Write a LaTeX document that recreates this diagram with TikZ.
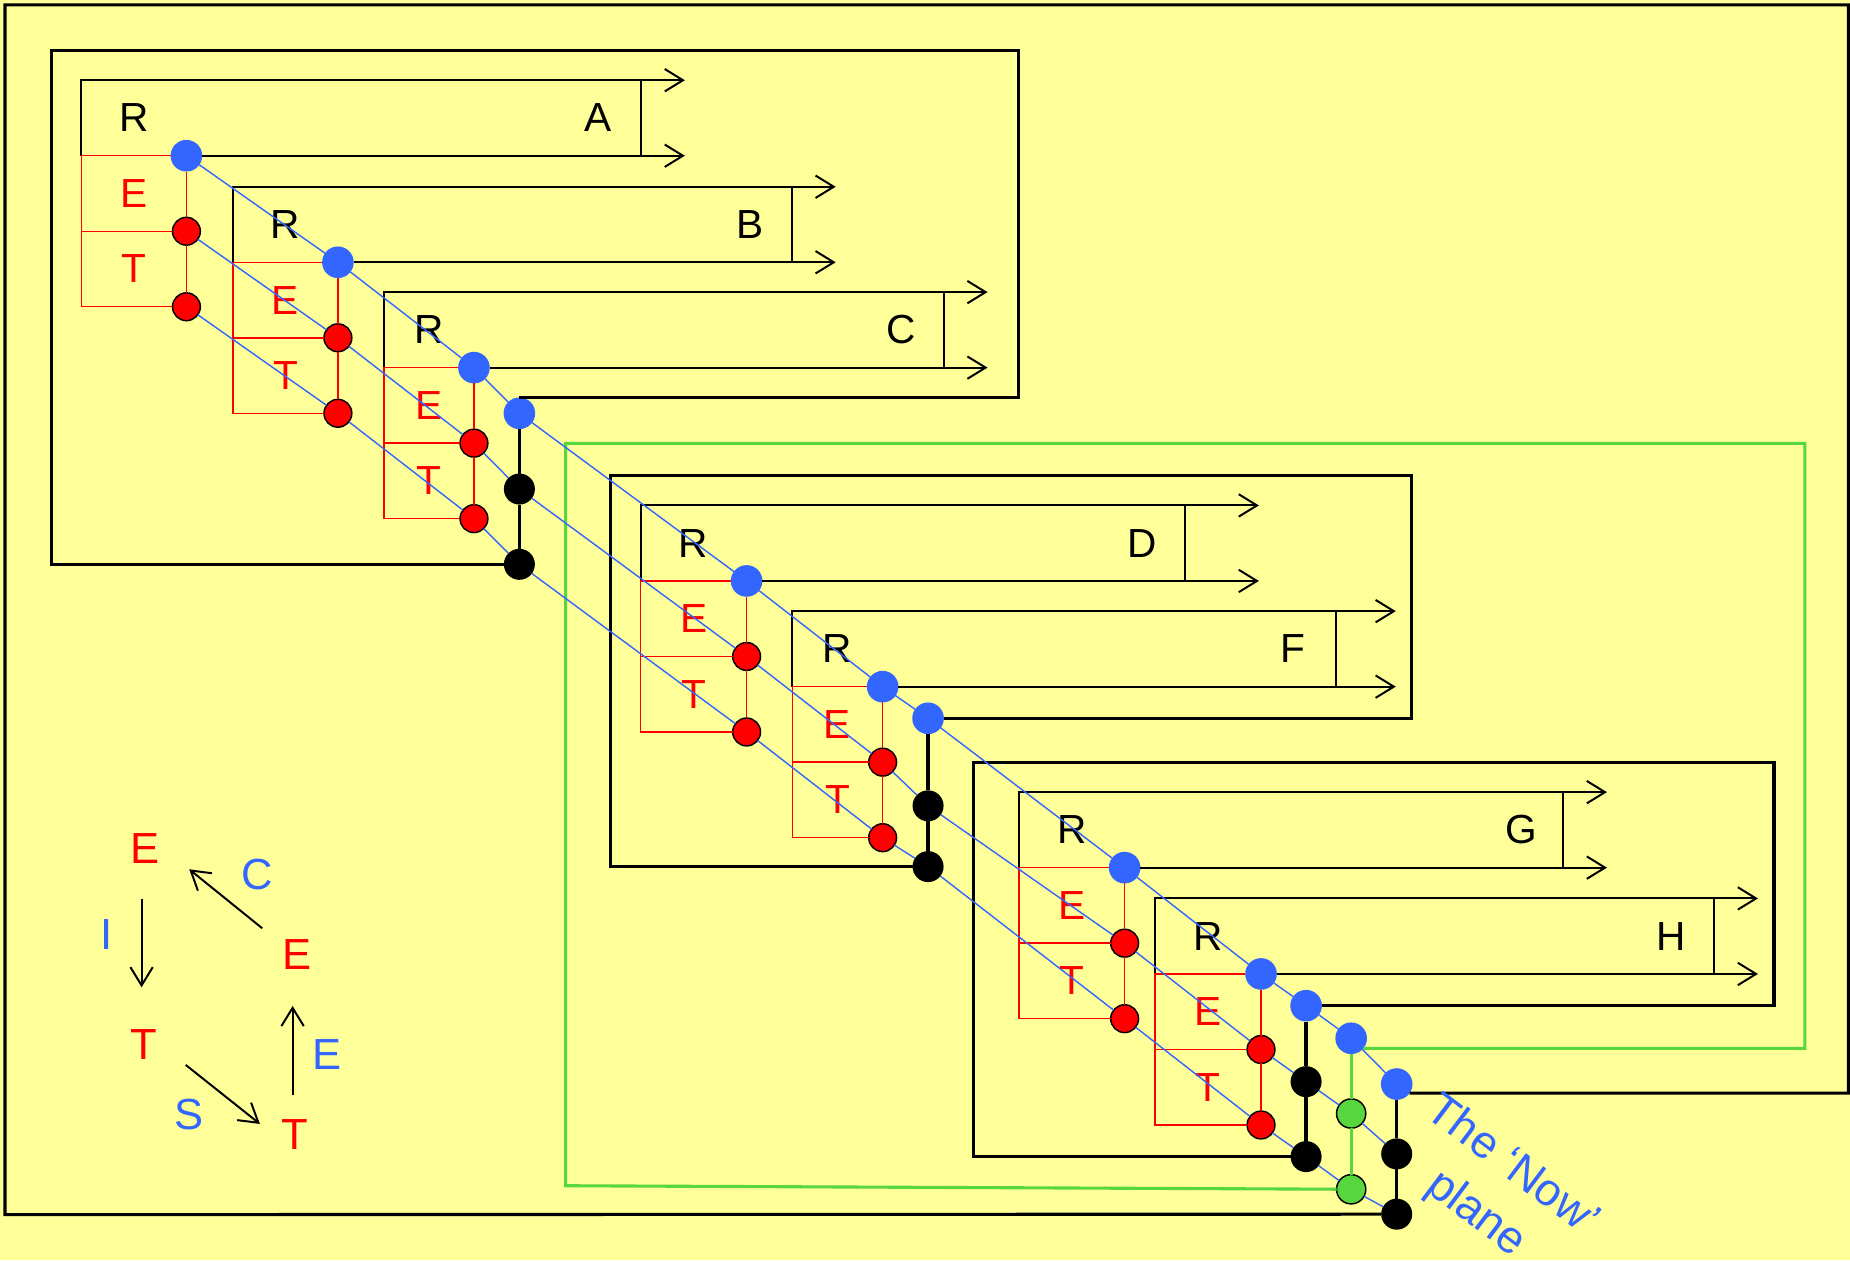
\documentclass[tikz,border=0pt]{standalone}
\usepackage{fontspec}
\setmainfont{Liberation Sans}
\usetikzlibrary{arrows.meta,calc}
\definecolor{paper}{RGB}{255,255,153}
\definecolor{nowblue}{RGB}{51,102,255}
\definecolor{evred}{RGB}{255,0,0}
\definecolor{lgreen}{RGB}{88,214,62}
\tikzset{%
  >={Straight Barb[length=4.4pt,width=5.4pt]}, % open arrow heads
  inner sep=0pt,%
  outer sep=0pt,%
  thin line/.style={line width=0.48pt},%
  frame/.style={line width=0.75pt},%
  link/.style={line width=0.8pt},%
  red line/.style={evred,line width=0.35pt},%
  now line/.style={nowblue,line width=0.34pt},%
  r dot/.style={circle,fill=nowblue,minimum size=2.68mm},%
  e dot/.style={circle,fill=evred,draw=black,line width=0.35pt,minimum size=2.36mm},%
  k dot/.style={circle,fill=black,minimum size=2.63mm},%
  g dot/.style={circle,fill=lgreen,draw=black,line width=0.35pt,minimum size=2.48mm},%
  lab/.style={font=\fontsize{9.8}{11}\selectfont},%
  legend txt/.style={font=\fontsize{10.5}{12}\selectfont},%
  now txt/.style={nowblue,font=\fontsize{11}{14.4}\selectfont,align=center}%
}

\begin{document}
\begin{tikzpicture}[x=0.1mm,y=-0.1mm] % units of the sketch

\useasboundingbox (0,0) rectangle (1568,1068);
\fill[paper] (0,0) rectangle (1568,1068);

% one box per event: name/left/y of R dot/x of dots/bar/arrow tip
\foreach \n/\xl/\yb/\xd/\xb/\xt in {A/68.9/132/158/543.3/580.5,
    B/197.5/222.3/286.4/671.3/708.3, C/325.4/311.6/401.7/799.7/837,
    D/543/492.4/632.8/1004/1067, F/671.5/582/748.1/1132/1183,
    G/863.6/735.4/953.2/1325/1362, H/979/825.5/1068.8/1452.7/1490}{
  \node[r dot] (r\n) at (\xd,\yb) {};
  \node[e dot] (e\n) at (\xd,\yb+64) {};
  \node[e dot] (t\n) at (\xd,\yb+128) {};
  \draw[thin line,->] (\xl,\yb) |- (\xt,\yb-64);
  \draw[thin line,->] (r\n) -- (\xt,\yb);
  \draw[thin line] (\xb,\yb-64) -- (\xb,\yb);
  \draw[red line] (r\n) -- (\xl,\yb) -- (\xl,\yb+128) -- (t\n);
  \draw[red line] (\xl,\yb+64) -- (e\n);
  \draw[red line] (r\n) -- (e\n) -- (t\n);
  \node[lab] (lr\n) at ({(\xl+\xd)/2},\yb-32) {R};
  \node[lab] (ln\n) at (\xb-36,\yb-32) {\n};
  \node[lab,evred] (le\n) at ({(\xl+\xd)/2},\yb+32) {E};
  \node[lab,evred] (lt\n) at ({(\xl+\xd)/2},\yb+96) {T};
}

% joined events
\node[r dot] (rABC) at (440.2,350.3) {};
\node[k dot] (kABC1) at (440.2,414.5) {};
\node[k dot] (kABC2) at (440.2,478.3) {};
\node[r dot] (rDF) at (786.6,608.8) {};
\node[k dot] (kDF1) at (786.6,683) {};
\node[k dot] (kDF2) at (786.6,734.5) {};
\node[r dot] (rGH) at (1107,852.4) {};
\node[k dot] (kGH1) at (1107,916.8) {};
\node[k dot] (kGH2) at (1107,980.3) {};
\node[r dot] (rGr) at (1145.2,880) {};
\node[g dot] (gGr1) at (1145.2,943.8) {};
\node[g dot] (gGr2) at (1145.2,1008) {};
\node[r dot] (rOut) at (1183.8,918.8) {};
\node[k dot] (kOut1) at (1183.8,978) {};
\node[k dot] (kOut2) at (1183.8,1029.1) {};

\draw[link] (rABC) -- (kABC1) -- (kABC2);
\draw[link] (rDF) -- (kDF1) -- (kDF2);
\draw[link] (rGH) -- (kGH1) -- (kGH2);
\draw[link,lgreen] (rGr) -- (gGr1) -- (gGr2);
\draw[link] (rOut) -- (kOut1) -- (kOut2);

\draw[frame] (rABC.north) -| (863.6,43) -| (43.5,478.3) -- (kABC2);
\draw[frame] (rDF) -| (1196,403) -| (517.6,734.5) -- (kDF2);
\draw[frame] (rGH) -| (1503.6,646.4) -| (825,980.3) -- (kGH2);
\draw[frame,lgreen] (rGr.-40) -| (1529.8,375.8) -| (479.4,1005) -- (gGr2);
\draw[frame] (rOut.-35) -| (1566.6,4.2) -| (4.2,1029.5) -- (kOut2);

% the now plane
\draw[now line] (rA) -- (rB) -- (rC) -- (rABC) -- (rD) -- (rF) -- (rDF)
  -- (rG) -- (rH) -- (rGH) -- (rGr) -- (rOut);
\draw[now line] (eA) -- (eB) -- (eC) -- (kABC1) -- (eD) -- (eF) -- (kDF1)
  -- (eG) -- (eH) -- (kGH1) -- (gGr1) -- (kOut1);
\draw[now line] (tA) -- (tB) -- (tC) -- (kABC2) -- (tD) -- (tF) -- (kDF2)
  -- (tG) -- (tH) -- (kGH2) -- (gGr2) -- (kOut2);
\node[now txt,rotate=-37] (now) at (1266,1009) {The ‘Now’\\plane};

% cycle legend
\node[legend txt,evred] (cE1) at (122.9,719.6) {E};
\node[legend txt,evred] (cT1) at (122,885.7) {T};
\node[legend txt,evred] (cT2) at (250,962) {T};
\node[legend txt,evred] (cE2) at (251.4,809.4) {E};
\node[legend txt,nowblue] (cI) at (90.4,792.4) {I};
\node[legend txt,nowblue] (cC) at (218,741.6) {C};
\node[legend txt,nowblue] (cS) at (160.5,945) {S};
\node[legend txt,nowblue] (cX) at (276.9,894) {E};
\coordinate (i0) at (120,762);     \coordinate (i1) at (120,836.8);
\coordinate (s0) at (157.4,902.6); \coordinate (s1) at (220.3,952.6);
\coordinate (x0) at (248,928);     \coordinate (x1) at (248,852.6);
\coordinate (c0) at (222.3,786.8); \coordinate (c1) at (160.4,736.8);
\draw[thin line,->] (i0) -- (i1);
\draw[thin line,->] (s0) -- (s1);
\draw[thin line,->] (x0) -- (x1);
\draw[thin line,->] (c0) -- (c1);

\end{tikzpicture}
\end{document}
